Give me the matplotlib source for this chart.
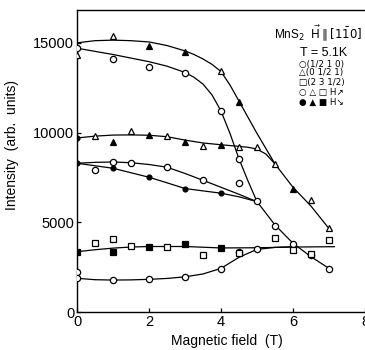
import numpy as np
import matplotlib
matplotlib.use("Agg")
import matplotlib.pyplot as plt

# guide curves (field in T, intensity in arb. units)
curve_a_x = [0, 0.5, 1, 1.5, 2, 2.5, 3, 3.25, 3.5, 3.75, 4, 4.25, 4.5, 5, 5.5, 6, 6.5, 7]
curve_a_y = [15000, 15120, 15150, 15120, 15050, 14850, 14550, 14350, 14100, 13800, 13400, 12650, 11750,
             9950, 8250, 6950, 5900, 4650]

curve_b_x = [0, 1, 2, 2.5, 3, 3.25, 3.5, 3.75, 4, 4.25, 4.5, 4.75, 5, 5.5, 6, 6.5, 7]
curve_b_y = [14700, 14350, 13950, 13700, 13350, 13080, 12700, 12100, 11200, 9950, 8530, 7300, 6150,
             4850, 3830, 3080, 2430]

curve_c_x = [0, 0.5, 1, 1.5, 2, 2.5, 3, 3.5, 4, 4.5, 4.75, 5, 5.25, 5.5]
curve_c_y = [9700, 9800, 9860, 9870, 9850, 9770, 9580, 9420, 9320, 9230, 9180, 9080, 8800, 8250]

curve_d_x = [0, 0.5, 1, 1.5, 2, 2.5, 3, 3.5, 4, 4.5, 5]
curve_d_y = [8290, 8340, 8360, 8320, 8220, 8070, 7720, 7340, 6950, 6560, 6150]

curve_e_x = [0, 0.5, 1, 1.5, 2, 2.5, 3, 3.5, 4, 4.5, 5]
curve_e_y = [8290, 8150, 8010, 7760, 7510, 7200, 6880, 6750, 6620, 6420, 6150]

curve_g_x = [0, 0.5, 1, 1.5, 2, 3, 4, 5, 6, 7.15]
curve_g_y = [3360, 3470, 3560, 3620, 3650, 3650, 3570, 3580, 3620, 3640]

curve_h_x = [0, 0.5, 1, 1.5, 2, 2.5, 3, 3.5, 4, 4.5, 5, 5.5, 6]
curve_h_y = [1880, 1800, 1780, 1790, 1820, 1870, 1960, 2120, 2430, 3050, 3490, 3600, 3640]

# measured points, (0 1/2 1) triangles
tri_up_x = [0, 1, 0.5, 1.5, 2.5, 3.5, 4, 4.5, 5, 5.5, 6.5, 7]
tri_up_y = [14300, 15380, 9800, 10100, 9790, 9270, 13450, 9180, 9180, 8230, 6240, 4660]
tri_dn_x = [2, 3, 4.5, 6, 1, 2, 3, 4]
tri_dn_y = [14850, 14510, 11720, 6880, 9450, 9866, 9500, 9310]

# (1/2 1 0) circles
circ_up_x = [0, 1, 2, 3, 4, 4.5, 5, 5.5, 6, 6.5, 7, 0.5, 1, 1.5, 2.5, 3.5, 4.5,
             0, 0, 1, 2, 3, 4, 4.5, 5]
circ_up_y = [14720, 14090, 13680, 13340, 11200, 8530, 6190, 4800, 3800, 3150, 2420,
             7930, 8380, 8320, 8070, 7380, 7190,
             2250, 1900, 1790, 1830, 1960, 2420, 3340, 3510]
circ_dn_x = [0, 0, 1, 2, 3, 4]
circ_dn_y = [9700, 8290, 8010, 7510, 6880, 6620]

# (2 3 1/2) squares
sq_up_x = [0.5, 1, 1.5, 2.5, 3.5, 4.5, 5.5, 6, 6.5, 7]
sq_up_y = [3830, 4050, 3680, 3610, 3180, 3280, 4150, 3480, 3250, 3990]
sq_dn_x = [0, 1, 2, 3, 4]
sq_dn_y = [3360, 3360, 3640, 3780, 3560]

legend_lines = ["○(1/2 1 0)", "△(0 1/2 1)", "□(2 3 1/2)", "○ △ □ H↗", "● ▲ ■ H↘"]

plt.rcParams['font.family'] = ['Liberation Sans', 'DejaVu Sans']

fig = plt.figure(figsize=(3.65, 3.5), dpi=100)
ax = fig.add_axes([77 / 365, 1 - 312 / 350, 8.4 * 36 / 365, 302 / 350])

for cx, cy in [(curve_a_x, curve_a_y), (curve_b_x, curve_b_y), (curve_c_x, curve_c_y),
               (curve_d_x, curve_d_y), (curve_e_x, curve_e_y), (curve_g_x, curve_g_y),
               (curve_h_x, curve_h_y)]:
    ax.plot(cx, cy, color='black', lw=0.9, zorder=2)

ax.plot(tri_up_x, tri_up_y, ls='none', marker='^', ms=5, mfc='white', mec='black', mew=0.9, zorder=3)
ax.plot(tri_dn_x, tri_dn_y, ls='none', marker='^', ms=5, mfc='black', mec='black', mew=0.9, zorder=3)
ax.plot(circ_up_x, circ_up_y, ls='none', marker='o', ms=4.5, mfc='white', mec='black', mew=0.9, zorder=3)
ax.plot(circ_dn_x, circ_dn_y, ls='none', marker='o', ms=3.5, mfc='black', mec='black', mew=0.9, zorder=3)
ax.plot(sq_up_x, sq_up_y, ls='none', marker='s', ms=4, mfc='white', mec='black', mew=0.9, zorder=3)
ax.plot(sq_dn_x, sq_dn_y, ls='none', marker='s', ms=4, mfc='black', mec='black', mew=0.9, zorder=3)

ax.set_xlim(0, 8.4)
ax.set_ylim(0, 16830)
ax.set_xticks([0, 2, 4, 6, 8])
ax.set_yticks([0, 5000, 10000, 15000])
ax.tick_params(direction='in', length=3, width=0.9, labelsize=10.5, pad=2)
for s in ax.spines.values():
    s.set_linewidth(1.0)

fig.text(12 / 365, 1 - 145 / 350, "Intensity  (arb.  units)", rotation=90,
         ha='center', va='center', fontsize=10)
fig.text(227 / 365, 1 - 341 / 350, "Magnetic field  (T)", ha='center', va='center', fontsize=10)

fig.text(274 / 365, 1 - 33 / 350, r"MnS$_2$  $\vec{\mathrm{H}}\parallel[1\bar{1}0]$",
         ha='left', va='center', fontsize=8.5)
fig.text(300 / 365, 1 - 53 / 350, "T = 5.1K", ha='left', va='center', fontsize=9)
legend_rows = [64, 73, 82, 92, 102]
for txt, row in zip(legend_lines, legend_rows):
    fig.text(299 / 365, 1 - row / 350, txt, ha='left', va='center', fontsize=6.3,
             family=['DejaVu Sans'])

fig.savefig("out.png", dpi=100)
